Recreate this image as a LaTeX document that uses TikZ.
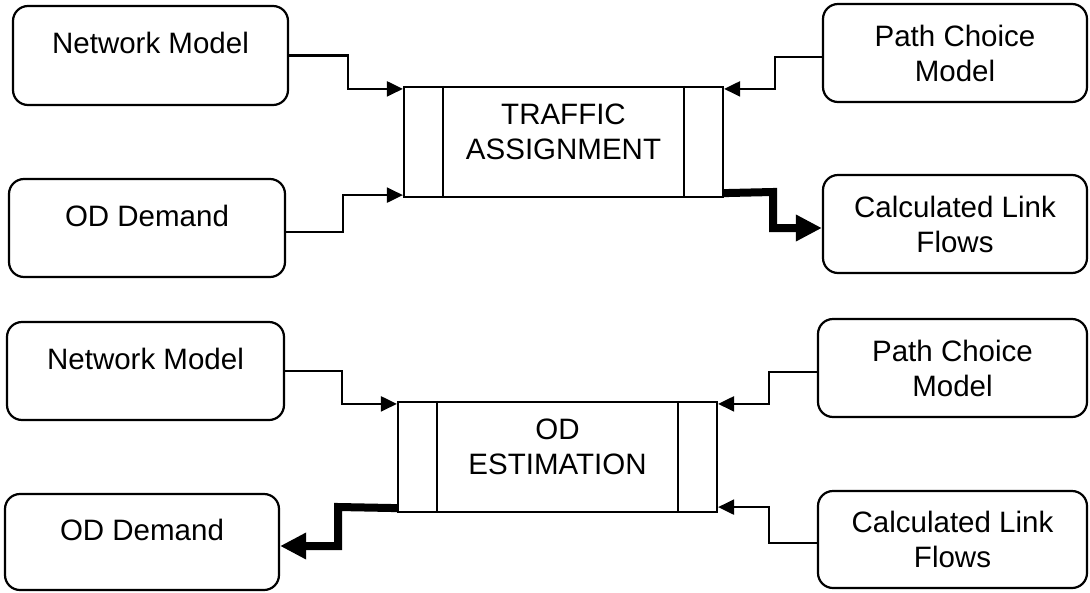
\documentclass[tikz,border=0pt]{standalone}
\usepackage{fontspec}
\setmainfont{Liberation Sans}
\usetikzlibrary{arrows.meta}
\begin{document}
\begin{tikzpicture}[x=1pt,y=-1pt,
  roundbox/.style={draw, line width=2.2pt, rounded corners=15pt, inner sep=0pt, align=center,
    font=\fontsize{29.5}{35}\selectfont},
  procbox/.style={draw, line width=2.2pt, inner sep=0pt, align=center,
    minimum width=319pt, minimum height=110pt, font=\fontsize{29.5}{35}\selectfont},
  thinconn/.style={line width=2.2pt, -{Triangle[length=16pt,width=15pt]}},
  thickconn/.style={line width=8pt, -{Triangle[length=26pt,width=25pt]}},
  innerline/.style={line width=2.2pt}
]
\useasboundingbox (0,0) rectangle (1090,592);

% top section
\node[roundbox, minimum width=275pt, minimum height=99pt] (nma) at (150.5,55.5) {Network Model\\[-10pt]\mbox{}};
\node[roundbox, minimum width=276pt, minimum height=98pt] (oda) at (147,228) {OD Demand\\[-10pt]\mbox{}};
\node[roundbox, minimum width=264pt, minimum height=98pt] (pca) at (955,53) {Path Choice\\Model};
\node[roundbox, minimum width=264pt, minimum height=98pt] (clfa) at (955,224) {Calculated Link\\Flows};
\node[procbox] (ta) at (563.5,142) {TRAFFIC\\ASSIGNMENT\\[-15pt]\mbox{}};
\draw[innerline] ([xshift=40pt]ta.north west) -- ([xshift=40pt]ta.south west);
\draw[innerline] ([xshift=-40pt]ta.north east) -- ([xshift=-40pt]ta.south east);

\draw[thinconn] (nma.east) -- (348,55.5) |- ([yshift=-3pt]ta.north west);
\draw[thinconn] ([yshift=-4pt]oda.east) -- (343,232) |- ([yshift=3pt]ta.south west);
\draw[thinconn] ([yshift=-4pt]pca.west) -- (775,57) |- ([yshift=-3pt]ta.north east);
\draw[thickconn] ([yshift=5pt]ta.south east) -- (773,192) |- ([yshift=-4pt]clfa.west);

% bottom section
\node[roundbox, minimum width=277pt, minimum height=98pt] (nmb) at (145.5,371) {Network Model\\[-10pt]\mbox{}};
\node[roundbox, minimum width=274pt, minimum height=96pt] (odb) at (142,542) {OD Demand\\[-10pt]\mbox{}};
\node[roundbox, minimum width=269pt, minimum height=98pt] (pcb) at (952.5,368) {Path Choice\\Model};
\node[roundbox, minimum width=269pt, minimum height=97pt] (clfb) at (952.5,539.5) {Calculated Link\\Flows};
\node[procbox] (oe) at (557.5,457) {OD\\ESTIMATION\\[-15pt]\mbox{}};
\draw[innerline] ([xshift=40pt]oe.north west) -- ([xshift=40pt]oe.south west);
\draw[innerline] ([xshift=-40pt]oe.north east) -- ([xshift=-40pt]oe.south east);

\draw[thinconn] (nmb.east) -- (342,371) |- ([yshift=-3pt]oe.north west);
\draw[thickconn] ([yshift=5pt]oe.south west) -- (338,507) |- ([yshift=-4pt]odb.east);
\draw[thinconn] ([yshift=-4pt]pcb.west) -- (769,372) |- ([yshift=-3pt]oe.north east);
\draw[thinconn] ([yshift=-3.5pt]clfb.west) -- (769,543) |- ([yshift=6pt]oe.south east);
\end{tikzpicture}
\end{document}
